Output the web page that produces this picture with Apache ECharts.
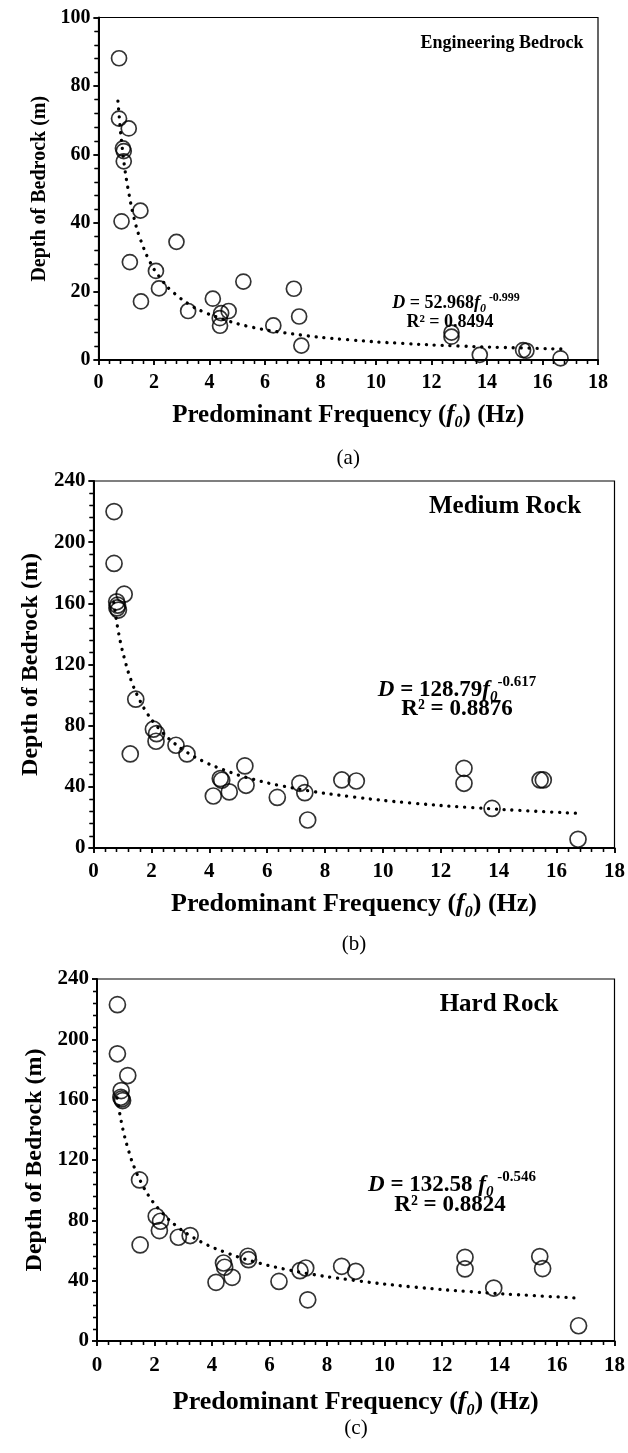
<!DOCTYPE html>
<html><head><meta charset="utf-8">
<script src="https://cdn.jsdelivr.net/npm/echarts@6/dist/echarts.min.js"></script>
<style>html,body{margin:0;padding:0;background:#fff}#c{width:628px;height:1453px}</style>
</head><body><div id="c"></div>
<script>
// ---------- data ----------
// (a) Engineering Bedrock
const freqA  = [0.74,0.74,1.09,0.88,0.91,0.91,1.51,0.83,2.81,1.13,2.07,2.18,1.53,3.23,4.12,4.42,4.69,4.37,4.38,5.22,6.30,7.04,7.23,7.31,12.72,12.72,13.74,15.30,15.42,16.65];
const depthA = [88.1,70.5,67.6,61.8,61.0,58.0,43.6,40.5,34.5,28.6,26.0,20.9,17.1,14.3,17.9,13.7,14.3,12.2,10.0,22.9,10.1,20.8,12.7,4.2,8.0,6.8,1.5,2.9,2.7,0.5];
// (b) Medium Rock
const freqB  = [0.71,0.71,1.06,0.80,0.83,0.86,0.81,1.46,1.27,2.07,2.18,2.16,2.85,3.23,4.14,4.38,4.43,4.69,5.23,5.27,6.35,7.13,7.30,7.40,8.58,9.08,12.8,12.8,13.77,15.43,15.54,16.74];
const depthB = [220,186.1,166,161,158.8,155.6,157,97.3,61.5,77.7,74.8,69.8,67.2,61.5,34.0,45.4,44.3,36.7,53.7,41.0,33.1,42.3,36.2,18.3,44.5,43.8,52.1,42.3,25.9,44.5,44.5,5.7];
// (c) Hard Rock
const freqC  = [0.71,0.71,1.07,0.84,0.83,0.89,0.86,1.48,1.50,2.06,2.21,2.17,2.83,3.24,4.14,4.40,4.44,4.70,5.25,5.27,6.33,7.06,7.26,7.33,8.51,9.00,12.8,12.8,13.8,15.4,15.5,16.75];
const depthC = [223,190.4,176,166,161.6,159.4,160.5,106.8,63.7,82.7,79.4,73.2,68.8,69.9,38.9,51.7,48.9,42.2,56.2,53.9,39.5,46.6,48.4,27.3,49.5,46.2,55.5,47.8,35.1,56,48,10.1];
// dotted trend lines, read at these frequencies
const trendX = [0.7,0.8,0.9,1.0,1.2,1.4,1.7,2.0,2.5,3.0,3.5,4.0,5.0,6.0,7.0,8.0,10,12,14,16.7];
const trendA = [75.6,66.2,58.8,53.0,44.2,37.8,31.2,26.5,21.2,17.7,15.1,13.3,10.6,8.8,7.6,6.6,5.3,4.4,3.8,3.2];
const trendB = [160.5,147.8,137.4,128.8,115.1,104.6,92.8,84.0,73.2,65.4,59.5,54.8,47.7,42.6,38.8,35.7,31.1,27.8,25.3,22.7];
const trendC = [161.1,149.8,140.4,132.6,120.0,110.3,99.2,90.8,80.4,72.8,66.9,62.2,55.1,49.9,45.8,42.6,37.7,34.1,31.4,28.5];
// axes
const xTicks = {min:0, max:18, interval:2};
const yTicksA = {min:0, max:100, interval:20};
const yTicksBC = {min:0, max:240, interval:40};
const panelTitles = ['Engineering Bedrock','Medium Rock','Hard Rock'];
const captions = ['(a)','(b)','(c)'];
const eqCoef = ['52.968','128.79','132.58 '];
const eqExp = [' -0.999','-0.617',' -0.546'];
const r2 = ['0.8494','0.8876','0.8824'];

// ---------- layout ----------
const FONT = '"Liberation Serif","Times New Roman",serif';
const grids = [
  {left:98.5, top:17.5, width:499.5, height:342.5},
  {left:93.5, top:481,  width:521,   height:367},
  {left:97,   top:979,  width:518,   height:362}
];
const tickFont = [20,21,21];
const xLabelMargin = [13,13,14];
const xTitleFont = [25,26,26];
const yTitleFont = [20,24,24];
const xNameGap = [40,40,45];
const yNameGap = [47,46,48];
const titleFont = [18,25,25];
const titlePos = [[502,43],[505,507],[499,1005]];
const eqFont = [18,23,23];
const eqPos = [[456,303],[457,690],[452,1185]];
const r2Pos = [[450,322],[457,709],[450,1205]];
const capY = [458,944,1428];
const symSize = [15,16,16];

const chart = echarts.init(document.getElementById('c'));
const xAxes = [], yAxes = [], series = [], graphics = [];
const black = '#000';
grids.forEach((g,i)=>{
  const yT = i===0 ? yTicksA : yTicksBC;
  const xf = xTitleFont[i], lh = Math.round(xf*1.25);
  const richTitle = {
    b:{fontFamily:FONT,fontWeight:'bold',fontSize:xf,color:black,lineHeight:lh},
    fi:{fontFamily:FONT,fontWeight:'bold',fontStyle:'italic',fontSize:xf,color:black,lineHeight:lh},
    sub:{fontFamily:FONT,fontWeight:'bold',fontStyle:'italic',fontSize:Math.round(xf*0.62),color:black,lineHeight:lh,verticalAlign:'bottom'}
  };
  const common = {gridIndex:i, type:'value', splitLine:{show:false}};
  const lineSt = {show:true, lineStyle:{color:black,width:2}};
  const tick = (inside)=>({show:true, inside:inside, length:5, lineStyle:{color:black,width:1.5}});
  const minor = {show:true, splitNumber:5, length:4, lineStyle:{color:black,width:1.3}};
  xAxes.push(Object.assign({}, common, xTicks, {
    axisLine:lineSt, axisTick:tick(false), minorTick:minor,
    axisLabel:{margin:xLabelMargin[i], fontFamily:FONT, fontWeight:'bold', fontSize:tickFont[i], color:black},
    name:'{b|Predominant Frequency (}{fi|f}{sub|0}{b|) (Hz)}', nameLocation:'middle', nameGap:xNameGap[i],
    nameTextStyle:{rich:richTitle}
  }));
  xAxes.push(Object.assign({}, common, xTicks, {
    axisLine:{show:false}, axisTick:tick(true), minorTick:minor, axisLabel:{show:false}
  }));
  yAxes.push(Object.assign({}, common, yT, {
    axisLine:lineSt, axisTick:tick(false), minorTick:minor,
    axisLabel:{margin:8, fontFamily:FONT, fontWeight:'bold', fontSize:tickFont[i], color:black},
    name:'Depth of Bedrock (m)', nameLocation:'middle', nameGap:yNameGap[i], nameRotate:90,
    nameTextStyle:{fontFamily:FONT, fontWeight:'bold', fontSize:yTitleFont[i], color:black}
  }));
  yAxes.push(Object.assign({}, common, yT, {
    axisLine:{show:false}, axisTick:tick(true), minorTick:minor, axisLabel:{show:false}
  }));
  const fx = [freqA,freqB,freqC][i], dy = [depthA,depthB,depthC][i], tr = [trendA,trendB,trendC][i];
  series.push({
    type:'line', xAxisIndex:2*i, yAxisIndex:2*i, data: trendX.map((x,k)=>[x,tr[k]]),
    showSymbol:false, smooth:0.2, silent:true, z:2,
    lineStyle:{color:black, width:3.3, type:[0.1,7.8], cap:'round'}
  });
  series.push({
    type:'scatter', xAxisIndex:2*i, yAxisIndex:2*i, data: fx.map((x,k)=>[x,dy[k]]),
    symbol:'circle', symbolSize:symSize[i], silent:true, z:3,
    itemStyle:{color:'rgba(0,0,0,0)', borderColor:black, borderWidth:1.7}
  });
  graphics.push({type:'text', x:titlePos[i][0], y:titlePos[i][1], style:{
    text:panelTitles[i], font:'bold '+titleFont[i]+'px '+FONT, fill:black, textAlign:'center', textVerticalAlign:'middle'}});
  const ef = eqFont[i], sf = Math.round(ef*0.64), elh = Math.round(ef*1.3);
  const eqRich = {
    di:{fontFamily:FONT,fontWeight:'bold',fontStyle:'italic',fontSize:ef,color:black,lineHeight:elh},
    b:{fontFamily:FONT,fontWeight:'bold',fontSize:ef,color:black,lineHeight:elh},
    sub:{fontFamily:FONT,fontWeight:'bold',fontStyle:'italic',fontSize:sf,color:black,lineHeight:elh,verticalAlign:'bottom'},
    sup:{fontFamily:FONT,fontWeight:'bold',fontSize:sf,color:black,lineHeight:elh,verticalAlign:'top'}
  };
  graphics.push({type:'text', x:eqPos[i][0], y:eqPos[i][1], style:{
    text:'{di|D}{b| = '+eqCoef[i]+'}{di|f}{sub|0}{sup|'+eqExp[i]+'}', rich:eqRich,
    textAlign:'center', textVerticalAlign:'middle'}});
  graphics.push({type:'text', x:r2Pos[i][0], y:r2Pos[i][1], style:{
    text:'R² = '+r2[i], font:'bold '+ef+'px '+FONT, fill:black, textAlign:'center', textVerticalAlign:'middle'}});
  graphics.push({type:'text', x:g.left+g.width/2, y:capY[i], style:{
    text:captions[i], font:'21px '+FONT, fill:black, textAlign:'center', textVerticalAlign:'middle'}});
});

chart.setOption({
  animation:false,
  backgroundColor:'#fff',
  grid: grids.map(g=>Object.assign({show:true, borderColor:black, borderWidth:1.2, backgroundColor:'transparent'}, g)),
  xAxis:xAxes, yAxis:yAxes, series:series, graphic:graphics
});
</script>
</body></html>
